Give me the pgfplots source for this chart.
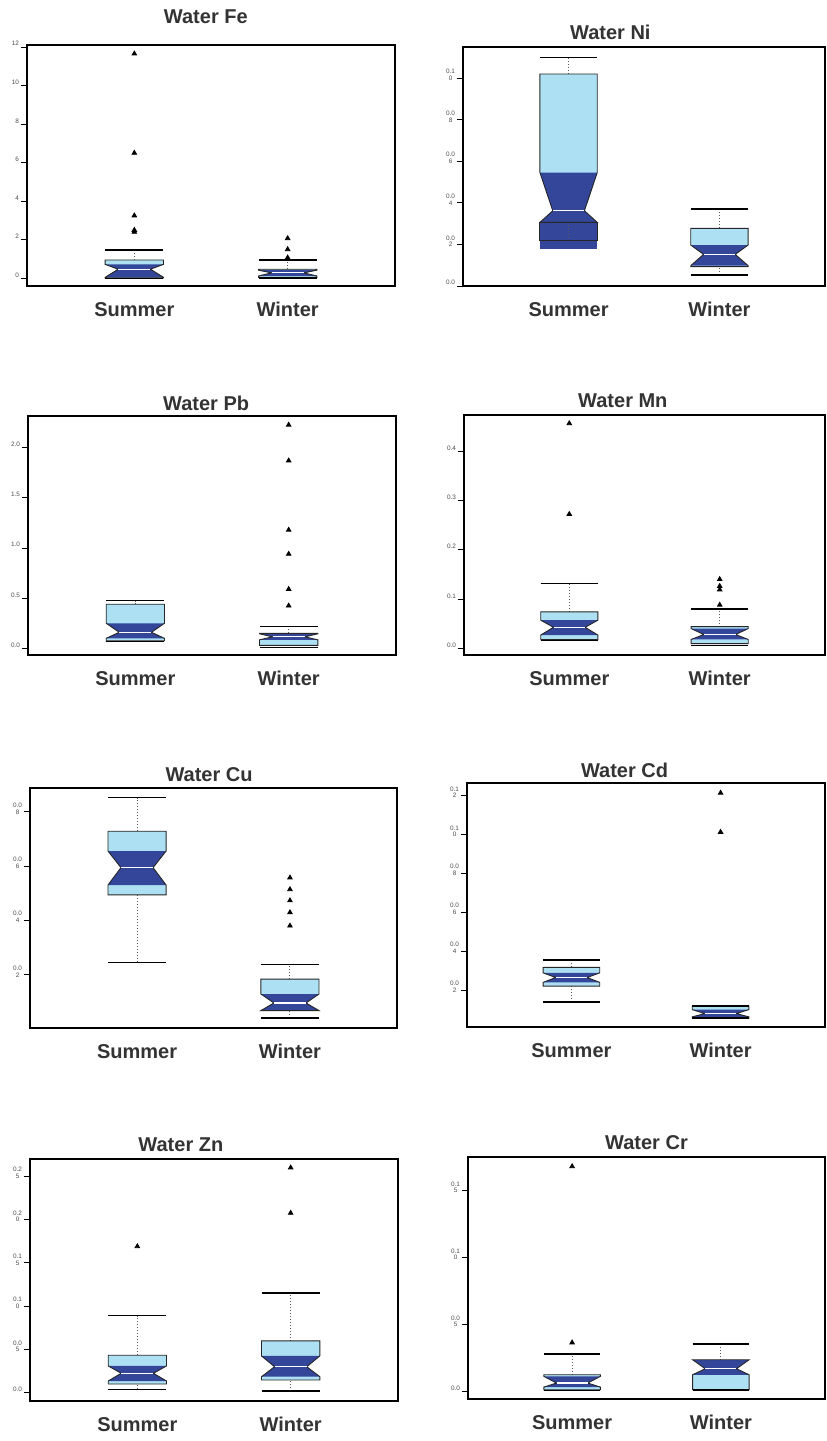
\documentclass[border=0pt]{standalone}
\usepackage{fontspec}
\setmainfont{Liberation Sans}
\usepackage{pgfplots}
\pgfplotsset{compat=1.18}

\definecolor{boxlight}{HTML}{AEE0F3}
\definecolor{boxdark}{HTML}{33469A}
\definecolor{inkgray}{HTML}{333333}

% Notched box: #1 x, #2 lower whisker, #3 Q1, #4 notch low, #5 median,
% #6 notch high, #7 Q3, #8 upper whisker
\newcommand{\nbox}[8]{%
  \pgfmathsetmacro\nbXl{#1-0.19}\pgfmathsetmacro\nbXr{#1+0.19}%
  \pgfmathsetmacro\nbNl{#1-0.105}\pgfmathsetmacro\nbNr{#1+0.105}%
  \addplot[densely dotted, gray!70!black, line width=0.5pt] coordinates {(#1,#7) (#1,#8)};
  \addplot[densely dotted, gray!70!black, line width=0.5pt] coordinates {(#1,#2) (#1,#3)};
  \addplot[fill=boxlight, draw=none] coordinates {(\nbXl,#3) (\nbXr,#3) (\nbXr,#4) (\nbNr,#5) (\nbXr,#6) (\nbXr,#7) (\nbXl,#7) (\nbXl,#6) (\nbNl,#5) (\nbXl,#4)} -- cycle;
  \addplot[fill=boxdark, draw=none] coordinates {(\nbXl,#6) (\nbXr,#6) (\nbNr,#5) (\nbXr,#4) (\nbXl,#4) (\nbNl,#5)} -- cycle;
  \addplot[draw=black!85, line width=0.45pt] coordinates {(\nbXl,#3) (\nbXr,#3) (\nbXr,#4) (\nbNr,#5) (\nbXr,#6) (\nbXr,#7) (\nbXl,#7) (\nbXl,#6) (\nbNl,#5) (\nbXl,#4)} -- cycle;
  \addplot[white, line width=0.6pt] coordinates {(\nbNl,#5) (\nbNr,#5)};
  \addplot[black, line width=0.7pt] coordinates {(\nbXl,#8) (\nbXr,#8)};
  \addplot[black, line width=0.7pt] coordinates {(\nbXl,#2) (\nbXr,#2)};
}

\pgfplotsset{
  panel/.style={
    scale only axis, anchor=north west,
    xmin=0.3, xmax=2.7,
    xtick={1,2}, xticklabels={Summer,Winter},
    x tick style={draw=none},
    xticklabel style={font=\fontsize{10}{12}\selectfont\bfseries, text=inkgray, yshift=-4.5pt},
    scaled y ticks=false,
    ytick pos=left, ytick align=outside,
    y tick style={black, line width=0.4pt},
    major tick length=3pt,
    yticklabel style={font=\fontsize{3.2}{3.4}\selectfont, align=center, text=gray!60!black, yshift=1.6pt, inner sep=0.8pt},
    axis line style={line width=0.7pt},
    title style={font=\fontsize{10}{12}\selectfont\bfseries, text=inkgray, anchor=south, inner sep=0pt},
  },
  outl/.style={only marks, mark=triangle*, mark size=1.3pt, black},
}

\begin{document}
\begin{tikzpicture}
\useasboundingbox (0,0) rectangle (413pt,720.5pt);

% ---------- Fe ----------
\begin{axis}[panel, at={(13.5pt,698pt)}, width=184pt, height=120.5pt,
  ymin=-0.4, ymax=12.1, ytick={0,2,4,6,8,10,12}, yticklabels={0,2,4,6,8,10,12},
  title={Water Fe}, title style={at={(0.486,1)}, yshift=4.5pt}]
\nbox{1}{0.0}{0.02}{0.05}{0.47}{0.72}{0.95}{1.47}
\nbox{2}{0.02}{0.05}{0.12}{0.28}{0.42}{0.47}{0.95}
\addplot[outl] coordinates {(1,11.65) (1,6.5) (1,3.25) (1,2.5) (1,2.4)};
\addplot[outl] coordinates {(2,2.07) (2,1.5) (2,1.07)};
\end{axis}

% ---------- Ni ----------
\begin{axis}[panel, at={(231.5pt,697pt)}, width=181pt, height=119.5pt,
  ymin=0, ymax=0.115, ytick={0,0.02,0.04,0.06,0.08,0.10},
  yticklabels={0.0,{0.0\\2},{0.0\\4},{0.0\\6},{0.0\\8},{0.1\\0}},
  title={Water Ni}, title style={at={(0.407,1)}, yshift=-2.5pt}]
% lower notch reaches below the first quartile
\addplot[fill=boxdark, draw=none] coordinates {(0.81,0.018) (1.19,0.018) (1.19,0.0306) (0.81,0.0306)} -- cycle;
\nbox{1}{0.0218}{0.0306}{0.0306}{0.0362}{0.0546}{0.102}{0.110}
\addplot[draw=black!85, line width=0.45pt] coordinates {(0.81,0.0306) (0.81,0.0218) (1.19,0.0218) (1.19,0.0306)};
\nbox{2}{0.0053}{0.0093}{0.0098}{0.0152}{0.0197}{0.0277}{0.037}
\end{axis}

% ---------- Pb ----------
\begin{axis}[panel, at={(14pt,512.5pt)}, width=184pt, height=119.5pt,
  ymin=-0.066, ymax=2.315, ytick={0,0.5,1,1.5,2},
  yticklabels={0.0,0.5,1.0,1.5,2.0},
  title={Water Pb}, title style={at={(0.484,1)}, yshift=-3.5pt}]
\nbox{1}{0.07}{0.076}{0.10}{0.16}{0.25}{0.44}{0.475}
\nbox{2}{0.008}{0.03}{0.085}{0.115}{0.145}{0.15}{0.22}
\addplot[outl] coordinates {(2,2.226) (2,1.87) (2,1.18) (2,0.94) (2,0.59) (2,0.425)};
\end{axis}

% ---------- Mn ----------
\begin{axis}[panel, at={(232pt,513pt)}, width=180.5pt, height=120pt,
  ymin=-0.0135, ymax=0.473, ytick={0,0.1,0.2,0.3,0.4},
  yticklabels={0.0,0.1,0.2,0.3,0.4},
  title={Water Mn}, title style={at={(0.44,1)}, yshift=-2.5pt}]
\nbox{1}{0.016}{0.0175}{0.027}{0.0426}{0.057}{0.074}{0.132}
\nbox{2}{0.0054}{0.0095}{0.018}{0.028}{0.040}{0.044}{0.080}
\addplot[outl] coordinates {(1,0.456) (1,0.272)};
\addplot[outl] coordinates {(2,0.14) (2,0.126) (2,0.119) (2,0.088)};
\end{axis}

% ---------- Cu ----------
\begin{axis}[panel, at={(15pt,326.5pt)}, width=183.5pt, height=120pt,
  ymin=0.0004, ymax=0.0887, ytick={0.02,0.04,0.06,0.08},
  yticklabels={{0.0\\2},{0.0\\4},{0.0\\6},{0.0\\8}},
  title={Water Cu}, title style={at={(0.488,1)}, yshift=-3pt}]
\nbox{1}{0.0246}{0.0494}{0.053}{0.0594}{0.0655}{0.0728}{0.0852}
\nbox{2}{0.0041}{0.0068}{0.0068}{0.0096}{0.0129}{0.0184}{0.0237}
\addplot[outl] coordinates {(2,0.0557) (2,0.0514) (2,0.0473) (2,0.0429) (2,0.038)};
\end{axis}

% ---------- Cd ----------
\begin{axis}[panel, at={(233.5pt,329pt)}, width=179pt, height=122pt,
  ymin=0.0011, ymax=0.1264, ytick={0.02,0.04,0.06,0.08,0.10,0.12},
  yticklabels={{0.0\\2},{0.0\\4},{0.0\\6},{0.0\\8},{0.1\\0},{0.1\\2}},
  title={Water Cd}, title style={at={(0.44,1)}, yshift=-3.5pt}]
\nbox{1}{0.014}{0.0221}{0.024}{0.0265}{0.0289}{0.0317}{0.0355}
\nbox{2}{0.0057}{0.0057}{0.0063}{0.008}{0.0100}{0.0118}{0.0118}
\addplot[outl] coordinates {(2,0.1213) (2,0.1012)};
\end{axis}

% ---------- Zn ----------
\begin{axis}[panel, at={(15pt,141pt)}, width=184pt, height=121pt,
  ymin=-0.0096, ymax=0.27, ytick={0,0.05,0.10,0.15,0.20,0.25},
  yticklabels={0.0,{0.0\\5},{0.1\\0},{0.1\\5},{0.2\\0},{0.2\\5}},
  title={Water Zn}, title style={at={(0.41,1)}, yshift=-2.5pt}]
\nbox{1}{0.0039}{0.010}{0.0135}{0.0224}{0.0309}{0.0432}{0.0891}
\nbox{2}{0.0019}{0.0147}{0.0185}{0.030}{0.0424}{0.0598}{0.115}
\addplot[outl] coordinates {(1,0.169)};
\addplot[outl] coordinates {(2,0.260) (2,0.2076)};
\end{axis}

% ---------- Cr ----------
\begin{axis}[panel, at={(234pt,142pt)}, width=178.5pt, height=121pt,
  ymin=-0.0057, ymax=0.175, ytick={0,0.05,0.10,0.15},
  yticklabels={0.0,{0.0\\5},{0.1\\0},{0.1\\5}},
  title={Water Cr}, title style={at={(0.5,1)}, yshift=-2.5pt}]
\nbox{1}{0.0007}{0.0012}{0.0032}{0.0062}{0.0112}{0.0124}{0.028}
\nbox{2}{0.001}{0.0012}{0.0124}{0.0169}{0.0236}{0.0236}{0.0355}
\addplot[outl] coordinates {(1,0.168) (1,0.0364)};
\end{axis}
\end{tikzpicture}
\end{document}
